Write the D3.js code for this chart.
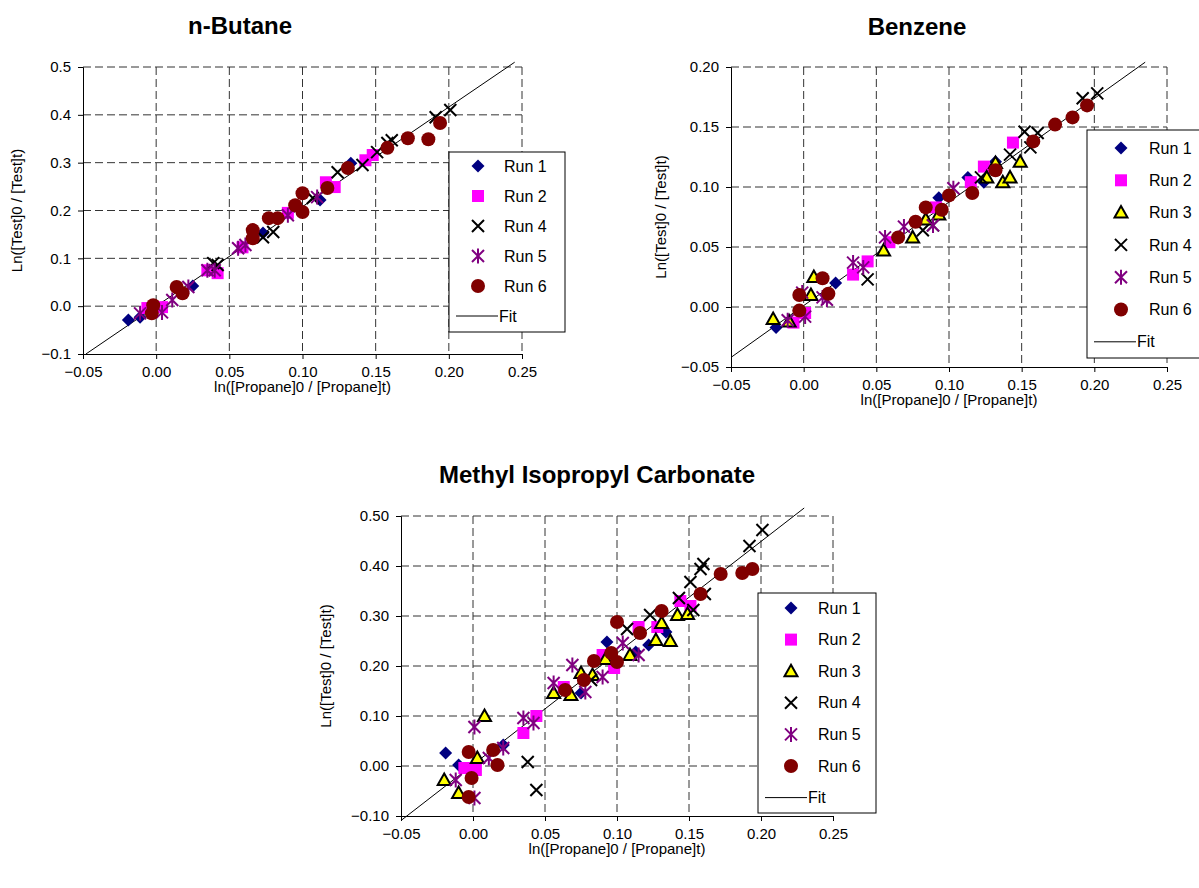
<!DOCTYPE html>
<html lang="en">
<head>
  <meta charset="UTF-8" />
  <title>Relative rate plots</title>
  <script src="https://d3js.org/d3.v7.min.js"></script>
  <style>
    html, body { margin: 0; padding: 0; background: #fff; }
    svg { display: block; font-family: "Liberation Sans", Arial, sans-serif; }
  </style>
</head>
<body>
  <svg id="chart" width="1199" height="888"></svg>

  <script>
    /**************************************************************
     *                     DATA
     **************************************************************/
    // shared x ticks
    const xTicks = [-0.05, 0, 0.05, 0.10, 0.15, 0.20, 0.25];
    const butaneYTicks = [-0.1, 0, 0.1, 0.2, 0.3, 0.4, 0.5];
    const benzeneYTicks = [-0.05, 0, 0.05, 0.10, 0.15, 0.20];
    const mipcYTicks = [-0.1, 0, 0.1, 0.2, 0.3, 0.4, 0.5];

    const runNames = ["Run 1", "Run 2", "Run 3", "Run 4", "Run 5", "Run 6"];

    // n-Butane  [x, y]
    const butaneRun1 = [[-0.019,-0.029],[-0.011,-0.023],[0.025,0.042],[0.073,0.153],[0.112,0.222],[0.133,0.299]];
    const butaneRun2 = [[-0.006,-0.004],[0.004,-0.002],[0.035,0.075],[0.042,0.069],[0.059,0.123],[0.090,0.195],
                        [0.116,0.259],[0.122,0.249],[0.143,0.305],[0.148,0.316]];
    const butaneRun4 = [[0.039,0.090],[0.042,0.086],[0.073,0.144],[0.080,0.155],[0.107,0.226],[0.124,0.280],
                        [0.141,0.295],[0.151,0.322],[0.158,0.341],[0.161,0.347],[0.191,0.395],[0.201,0.410]];
    const butaneRun5 = [[-0.011,-0.015],[0.004,-0.013],[0.011,0.013],[0.022,0.040],[0.035,0.075],[0.040,0.075],
                        [0.056,0.121],[0.061,0.128],[0.090,0.190],[0.110,0.228]];
    const butaneRun6 = [[-0.003,-0.015],[-0.002,0.002],[0.014,0.040],[0.018,0.027],[0.066,0.159],[0.066,0.142],
                        [0.077,0.184],[0.083,0.184],[0.095,0.211],[0.100,0.236],[0.100,0.197],[0.117,0.247],
                        [0.131,0.289],[0.158,0.331],[0.172,0.351],[0.186,0.349],[0.194,0.383]];
    const butaneFit = [[-0.048,-0.100],[0.245,0.510]];

    // Benzene
    const benzeneRun1 = [[-0.019,-0.017],[0.022,0.020],[0.093,0.091],[0.113,0.108],[0.124,0.104],[0.132,0.121]];
    const benzeneRun2 = [[-0.007,-0.013],[0.001,-0.005],[0.034,0.027],[0.044,0.038],[0.059,0.054],[0.091,0.083],
                         [0.115,0.104],[0.124,0.117],[0.144,0.137]];
    const benzeneRun3 = [[-0.021,-0.010],[-0.010,-0.012],[0.007,0.025],[0.005,0.010],[0.055,0.047],[0.075,0.058],
                         [0.084,0.073],[0.093,0.077],[0.126,0.108],[0.132,0.120],[0.137,0.104],[0.142,0.108],[0.149,0.121]];
    const benzeneRun4 = [[0.044,0.023],[0.082,0.064],[0.089,0.068],[0.122,0.108],[0.142,0.127],[0.152,0.146],
                         [0.156,0.133],[0.161,0.145],[0.192,0.174],[0.202,0.178]];
    const benzeneRun5 = [[-0.011,-0.011],[0.001,-0.008],[-0.001,0.012],[0.013,0.008],[0.016,0.006],[0.034,0.037],
                         [0.041,0.033],[0.056,0.058],[0.069,0.067],[0.089,0.068],[0.103,0.099]];
    const benzeneRun6 = [[-0.003,0.010],[-0.003,-0.003],[0.013,0.024],[0.017,0.011],[0.065,0.058],[0.077,0.071],
                         [0.084,0.083],[0.095,0.081],[0.100,0.093],[0.116,0.095],[0.132,0.114],[0.158,0.138],
                         [0.173,0.152],[0.185,0.158],[0.195,0.168]];
    const benzeneFit = [[-0.050,-0.042],[0.235,0.204]];

    // Methyl Isopropyl Carbonate
    const mipcRun1 = [[-0.019,0.026],[-0.010,0.002],[0.021,0.042],[0.075,0.146],[0.093,0.248],[0.113,0.228],
                      [0.122,0.242],[0.134,0.268]];
    const mipcRun2 = [[-0.006,-0.004],[0.002,-0.008],[0.035,0.066],[0.044,0.100],[0.063,0.158],[0.090,0.222],
                      [0.098,0.196],[0.115,0.278],[0.128,0.278],[0.144,0.330],[0.151,0.320]];
    const mipcRun3 = [[-0.020,-0.028],[-0.010,-0.054],[0.003,0.016],[0.008,0.100],[0.056,0.146],[0.068,0.142],
                      [0.075,0.186],[0.083,0.182],[0.092,0.214],[0.109,0.222],[0.127,0.252],[0.137,0.250],
                      [0.131,0.286],[0.142,0.302],[0.149,0.304]];
    const mipcRun4 = [[0.038,0.008],[0.044,-0.048],[0.082,0.172],[0.107,0.274],[0.123,0.302],[0.143,0.336],
                      [0.153,0.312],[0.151,0.368],[0.158,0.394],[0.160,0.404],[0.161,0.344],[0.192,0.440],[0.201,0.472]];
    const mipcRun5 = [[-0.012,-0.028],[0.001,0.078],[0.001,-0.064],[0.011,0.016],[0.021,0.036],[0.035,0.096],
                      [0.042,0.086],[0.056,0.166],[0.069,0.202],[0.078,0.148],[0.090,0.178],[0.104,0.246],[0.115,0.222]];
    const mipcRun6 = [[-0.003,0.028],[-0.001,-0.024],[-0.003,-0.062],[0.014,0.032],[0.017,0.002],[0.064,0.152],
                      [0.077,0.172],[0.084,0.210],[0.096,0.226],[0.100,0.208],[0.100,0.288],[0.116,0.266],
                      [0.131,0.310],[0.158,0.344],[0.172,0.384],[0.187,0.386],[0.194,0.394]];
    const mipcFit = [[-0.050,-0.109],[0.230,0.516]];

    /**************************************************************
     *                     STYLES & LAYOUT
     **************************************************************/
    const runStyles = {
      "Run 1": { shape: "diamond",  color: "#000080" },
      "Run 2": { shape: "square",   color: "#FF00FF" },
      "Run 3": { shape: "triangle", color: "#FFFF00" },
      "Run 4": { shape: "cross",    color: "#000000" },
      "Run 5": { shape: "star",     color: "#800080" },
      "Run 6": { shape: "circle",   color: "#800000" }
    };

    const charts = [
      {
        title: "n-Butane", titleX: 240, titleY: 34,
        box: { left: 83, right: 522, top: 67, bottom: 354 },
        yDomain: [-0.1, 0.5], yTicks: butaneYTicks, yFmt: d3.format(".1f"),
        yTitleX: 17,
        runs: { "Run 1": butaneRun1, "Run 2": butaneRun2, "Run 4": butaneRun4, "Run 5": butaneRun5, "Run 6": butaneRun6 },
        fit: butaneFit,
        legend: { x: 449, y: 152, w: 116, h: 180, first: 166, step: 30, markX: 29, textX: 55 }
      },
      {
        title: "Benzene", titleX: 917, titleY: 35,
        box: { left: 731, right: 1167, top: 67, bottom: 367 },
        yDomain: [-0.05, 0.20], yTicks: benzeneYTicks, yFmt: d3.format(".2f"),
        yTitleX: 661,
        runs: { "Run 1": benzeneRun1, "Run 2": benzeneRun2, "Run 3": benzeneRun3, "Run 4": benzeneRun4, "Run 5": benzeneRun5, "Run 6": benzeneRun6 },
        fit: benzeneFit,
        legend: { x: 1087, y: 130, w: 130, h: 228, first: 148, step: 32.3, markX: 34, textX: 62 }
      },
      {
        title: "Methyl Isopropyl Carbonate", titleX: 597, titleY: 483,
        box: { left: 401, right: 833, top: 516, bottom: 816 },
        yDomain: [-0.1, 0.5], yTicks: mipcYTicks, yFmt: d3.format(".2f"),
        yTitleX: 326,
        runs: { "Run 1": mipcRun1, "Run 2": mipcRun2, "Run 3": mipcRun3, "Run 4": mipcRun4, "Run 5": mipcRun5, "Run 6": mipcRun6 },
        fit: mipcFit,
        legend: { x: 758, y: 593, w: 118, h: 220, first: 608, step: 31.6, markX: 33, textX: 60 }
      }
    ];

    const svg = d3.select("#chart");

    // draw one marker of a given run style centred at (x, y)
    function drawMarker(g, style, x, y) {
      const s = 6.5;
      if (style.shape === "diamond") {
        g.append("path")
          .attr("d", `M${x},${y - s}L${x + s},${y}L${x},${y + s}L${x - s},${y}Z`)
          .attr("fill", style.color);
      } else if (style.shape === "square") {
        g.append("rect")
          .attr("x", x - 6).attr("y", y - 6).attr("width", 12).attr("height", 12)
          .attr("fill", style.color);
      } else if (style.shape === "triangle") {
        g.append("path")
          .attr("d", `M${x},${y - 6.5}L${x + 6.5},${y + 5}L${x - 6.5},${y + 5}Z`)
          .attr("fill", style.color).attr("stroke", "#000").attr("stroke-width", 2)
          .attr("stroke-linejoin", "miter");
      } else if (style.shape === "cross") {
        g.append("path")
          .attr("d", `M${x - 6},${y - 6}L${x + 6},${y + 6}M${x - 6},${y + 6}L${x + 6},${y - 6}`)
          .attr("stroke", style.color).attr("stroke-width", 2).attr("fill", "none");
      } else if (style.shape === "star") {
        g.append("path")
          .attr("d", `M${x - 6},${y - 6}L${x + 6},${y + 6}M${x - 6},${y + 6}L${x + 6},${y - 6}M${x},${y - 7.5}L${x},${y + 7.5}`)
          .attr("stroke", style.color).attr("stroke-width", 2).attr("fill", "none");
      } else {
        g.append("circle")
          .attr("cx", x).attr("cy", y).attr("r", 7)
          .attr("fill", style.color);
      }
    }

    charts.forEach(c => {
      const b = c.box;
      const x = d3.scaleLinear().domain([-0.05, 0.25]).range([b.left, b.right]);
      const y = d3.scaleLinear().domain(c.yDomain).range([b.bottom, b.top]);
      const g = svg.append("g");

      // title
      g.append("text")
        .attr("x", c.titleX).attr("y", c.titleY)
        .attr("text-anchor", "middle")
        .attr("font-size", 24).attr("font-weight", "bold")
        .text(c.title);

      // dashed gridlines
      g.append("g").selectAll("line")
        .data(xTicks.slice(1))
        .join("line")
        .attr("x1", d => x(d)).attr("x2", d => x(d))
        .attr("y1", b.top).attr("y2", b.bottom)
        .attr("stroke", "#333").attr("stroke-dasharray", "8,4");
      g.append("g").selectAll("line")
        .data(c.yTicks.slice(1))
        .join("line")
        .attr("x1", b.left).attr("x2", b.right)
        .attr("y1", d => y(d)).attr("y2", d => y(d))
        .attr("stroke", "#333").attr("stroke-dasharray", "8,4");

      // axes
      const xAxis = g.append("g")
        .attr("transform", `translate(0,${b.bottom})`)
        .call(d3.axisBottom(x).tickValues(xTicks).tickFormat(d3.format(".2f")).tickSize(5).tickPadding(7));
      const yAxis = g.append("g")
        .attr("transform", `translate(${b.left},0)`)
        .call(d3.axisLeft(y).tickValues(c.yTicks).tickFormat(c.yFmt).tickSize(5).tickPadding(7));
      [xAxis, yAxis].forEach(a => {
        a.select(".domain").attr("stroke", "#000");
        a.selectAll(".tick line").attr("stroke", "#000");
        a.selectAll("text").attr("font-size", 15).attr("fill", "#000")
          .attr("font-family", "'Liberation Sans', Arial, sans-serif");
      });

      // axis titles
      g.append("text")
        .attr("x", (b.left + b.right) / 2).attr("y", b.bottom + 38)
        .attr("text-anchor", "middle").attr("font-size", 15)
        .text("ln([Propane]0 / [Propane]t)");
      g.append("text")
        .attr("transform", `translate(${c.yTitleX},${(b.top + b.bottom) / 2}) rotate(-90)`)
        .attr("text-anchor", "middle").attr("dy", "0.35em").attr("font-size", 15)
        .text("Ln([Test]0 / [Test]t)");

      // fit line
      g.append("path")
        .datum(c.fit)
        .attr("d", d3.line().x(d => x(d[0])).y(d => y(d[1])))
        .attr("stroke", "#000").attr("stroke-width", 1).attr("fill", "none");

      // markers
      const pts = g.append("g");
      Object.keys(c.runs).forEach(name => {
        c.runs[name].forEach(p => drawMarker(pts, runStyles[name], x(p[0]), y(p[1])));
      });

      // legend
      const L = c.legend;
      const leg = g.append("g");
      leg.append("rect")
        .attr("x", L.x).attr("y", L.y).attr("width", L.w).attr("height", L.h)
        .attr("fill", "#fff").attr("stroke", "#000");
      const names = Object.keys(c.runs);
      names.forEach((name, i) => {
        const ry = L.first + i * L.step;
        drawMarker(leg, runStyles[name], L.x + L.markX, ry);
        leg.append("text")
          .attr("x", L.x + L.textX).attr("y", ry).attr("dy", "0.35em")
          .attr("font-size", 16).text(name);
      });
      const fy = L.first + names.length * L.step;
      leg.append("line")
        .attr("x1", L.x + 7).attr("x2", L.x + 49)
        .attr("y1", fy).attr("y2", fy)
        .attr("stroke", "#000");
      leg.append("text")
        .attr("x", L.x + 50).attr("y", fy).attr("dy", "0.35em")
        .attr("font-size", 16).text("Fit");
    });
  </script>
</body>
</html>
